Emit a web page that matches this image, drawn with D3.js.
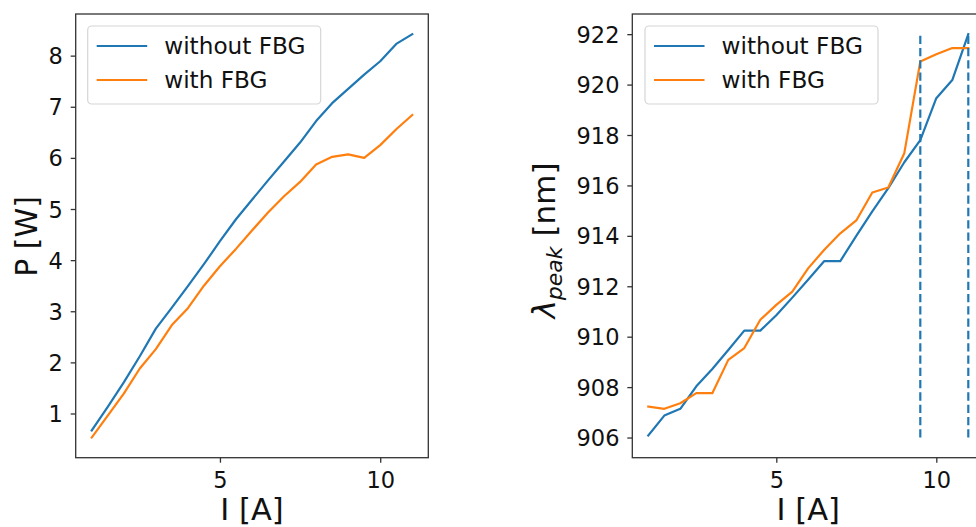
<!DOCTYPE html>
<html>
<head>
<meta charset="utf-8">
<script src="https://cdn.jsdelivr.net/npm/d3@7"></script>
<style>
  html, body { margin: 0; padding: 0; background: #fff; }
  svg { display: block; font-family: "DejaVu Sans", sans-serif; }
</style>
</head>
<body>
<svg id="chart" width="976" height="527"></svg>
<script>
// ---- data ----
const current = [1, 1.5, 2, 2.5, 3, 3.5, 4, 4.5, 5, 5.5, 6, 6.5, 7, 7.5, 8, 8.5, 9, 9.5, 10, 10.5, 11];
const powerWithout = [0.67, 1.13, 1.61, 2.12, 2.66, 3.07, 3.49, 3.92, 4.37, 4.80, 5.18, 5.56, 5.93, 6.30, 6.72, 7.07, 7.35, 7.63, 7.89, 8.23, 8.42];
const powerWith = [0.53, 0.96, 1.39, 1.88, 2.26, 2.73, 3.06, 3.50, 3.88, 4.22, 4.58, 4.93, 5.25, 5.53, 5.87, 6.02, 6.07, 6.00, 6.25, 6.56, 6.84];
const peakWithout = [906.08, 906.87, 907.14, 908.03, 908.72, 909.47, 910.24, 910.24, 910.85, 911.55, 912.27, 913.0, 913.0, 914.0, 914.97, 915.89, 916.92, 917.80, 919.46, 920.18, 922.0];
const peakWith = [907.23, 907.14, 907.36, 907.76, 907.76, 909.08, 909.55, 910.67, 911.26, 911.79, 912.72, 913.45, 914.10, 914.61, 915.72, 915.92, 917.28, 920.92, 921.20, 921.45, 921.45];
const vlineX = [9.5, 11];
const vlineRange = [906, 922];
const seriesNames = ["without FBG", "with FBG"];
const seriesColors = ["#1f77b4", "#ff7f0e"];
const powerTicks = [1, 2, 3, 4, 5, 6, 7, 8];
const peakTicks = [906, 908, 910, 912, 914, 916, 918, 920, 922];
const currentTicks = [5, 10];

const svg = d3.select("#chart");
const plotTop = 14, plotBottom = 457.7;

function padded(lo, hi) { const m = (hi - lo) * 0.05; return [lo - m, hi + m]; }

function panel(opts) {
  const g = svg.append("g");
  const xDom = padded(d3.min(current), d3.max(current));
  const x = d3.scaleLinear().domain(xDom).range([opts.left, opts.right]);
  const y = d3.scaleLinear().domain(padded(opts.yMin, opts.yMax)).range([plotBottom, plotTop]);

  const clipId = "clip" + opts.id;
  svg.append("clipPath").attr("id", clipId).append("rect")
    .attr("x", opts.left).attr("y", plotTop).attr("width", opts.right - opts.left).attr("height", plotBottom - plotTop);

  const plot = g.append("g").attr("clip-path", `url(#${clipId})`);
  const line = d3.line().x((d, i) => x(current[i])).y(d => y(d));
  opts.series.forEach((s, k) => {
    plot.append("path").datum(s).attr("d", line)
      .attr("fill", "none").attr("stroke", seriesColors[k])
      .attr("stroke-width", 2.2).attr("stroke-linejoin", "round").attr("stroke-linecap", "square");
  });
  if (opts.vlines) {
    opts.vlines.forEach(v => {
      plot.append("line").attr("x1", x(v)).attr("x2", x(v))
        .attr("y1", y(vlineRange[0])).attr("y2", y(vlineRange[1]))
        .attr("stroke", seriesColors[0]).attr("stroke-width", 2.2)
        .attr("stroke-dasharray", "8.3,4");
    });
  }

  // axes
  const xa = g.append("g").attr("transform", `translate(0,${plotBottom})`)
    .call(d3.axisBottom(x).tickValues(currentTicks).tickFormat(d3.format("d")).tickSize(5).tickPadding(8));
  xa.select(".domain").remove();
  xa.selectAll("line").attr("stroke", "#333").attr("stroke-width", 1.3);
  xa.selectAll("text").attr("font-size", 22.5).attr("fill", "#111").attr("y", 30.6).attr("dy", 0)
    .attr("font-family", "DejaVu Sans");

  const ya = g.append("g").attr("transform", `translate(${opts.left},0)`)
    .call(d3.axisLeft(y).tickValues(opts.yTicks).tickFormat(d3.format("d")).tickSize(5).tickPadding(7.8));
  ya.select(".domain").remove();
  ya.selectAll("line").attr("stroke", "#333").attr("stroke-width", 1.3);
  ya.selectAll("text").attr("font-size", 22.5).attr("fill", "#111").attr("dy", "0.36em")
    .attr("font-family", "DejaVu Sans");

  // spines
  g.append("rect").attr("x", opts.left).attr("y", plotTop)
    .attr("width", opts.right - opts.left).attr("height", plotBottom - plotTop)
    .attr("fill", "none").attr("stroke", "#333").attr("stroke-width", 1.3);

  // labels
  g.append("text").attr("x", (opts.left + opts.right) / 2).attr("y", 519.8)
    .attr("text-anchor", "middle").attr("font-size", 30.5).attr("fill", "#111").text("I [A]");
  const yl = g.append("text")
    .attr("transform", `translate(${opts.ylabelX},${opts.ylabelY}) rotate(-90)`)
    .attr("text-anchor", "middle").attr("font-size", opts.ylabelSize).attr("fill", "#111");
  opts.ylabel(yl);

  // legend
  const lg = g.append("g");
  lg.append("rect").attr("x", opts.legX).attr("y", 26).attr("width", 233).attr("height", 78)
    .attr("rx", 4).attr("fill", "#fff").attr("fill-opacity", 0.8)
    .attr("stroke", "#d5d5d5").attr("stroke-width", 1.2);
  seriesNames.forEach((n, k) => {
    const yy = 46 + k * 34;
    lg.append("line").attr("x1", opts.legX + 9).attr("x2", opts.legX + 59.5)
      .attr("y1", yy).attr("y2", yy).attr("stroke", seriesColors[k]).attr("stroke-width", 2.2);
    lg.append("text").attr("x", opts.legX + 76.5).attr("y", yy).attr("dy", "0.36em")
      .attr("font-size", 23.2).attr("fill", "#111").text(n);
  });
}

panel({
  id: "L", left: 75.7, right: 428.3,
  yMin: d3.min(powerWith), yMax: d3.max(powerWithout),
  series: [powerWithout, powerWith], yTicks: powerTicks,
  ylabelX: 37, ylabelY: 236.5, ylabelSize: 30, legX: 87.7,
  ylabel: t => t.text("P [W]")
});

panel({
  id: "R", left: 632.3, right: 984.3,
  yMin: Math.min(d3.min(peakWithout), d3.min(peakWith), vlineRange[0]),
  yMax: Math.max(d3.max(peakWithout), d3.max(peakWith), vlineRange[1]),
  series: [peakWithout, peakWith], yTicks: peakTicks, vlines: vlineX,
  ylabelX: 554.5, ylabelY: 240.5, ylabelSize: 31, legX: 645,
  ylabel: t => {
    t.append("tspan").attr("font-style", "italic").text("λ");
    t.append("tspan").attr("font-style", "italic").attr("font-size", 22).attr("dy", 7).text("peak");
    t.append("tspan").attr("dy", -7).text(" [nm]");
  }
});
</script>
</body>
</html>
